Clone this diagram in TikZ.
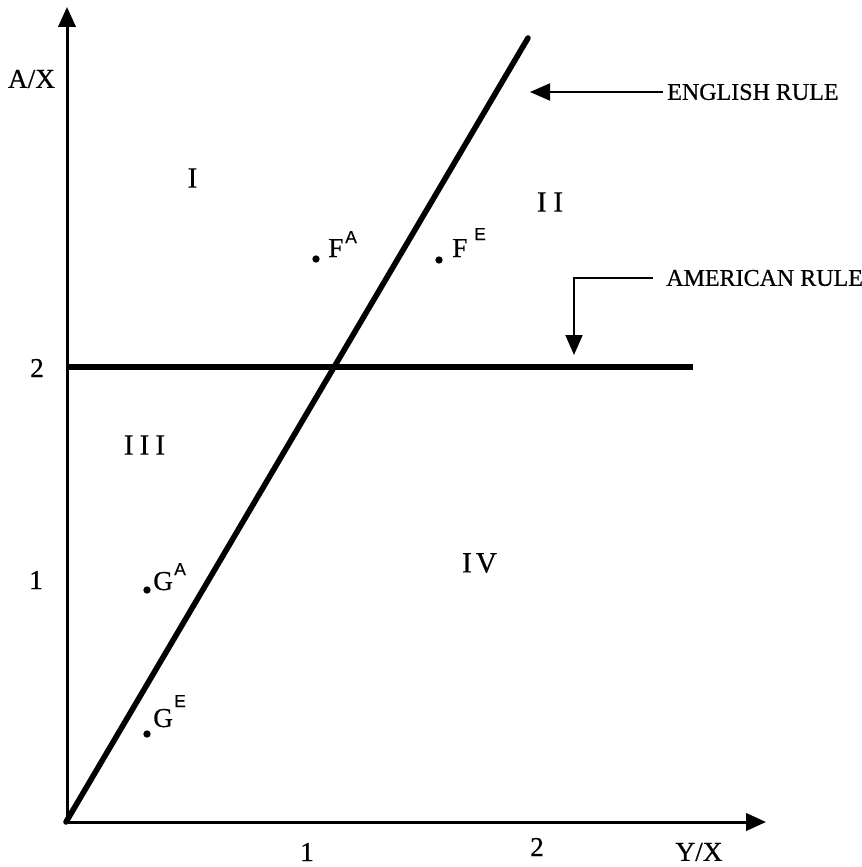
\documentclass[tikz,border=0pt]{standalone}
\usepackage{fontspec}
\setmainfont{Liberation Serif}[FakeBold=0.6]
\setsansfont{Liberation Sans}[FakeBold=0.4]
\usetikzlibrary{arrows.meta}
\begin{document}
\begin{tikzpicture}[x=0.75pt,y=-0.75pt,
  axis/.style={line width=2.25pt,{Triangle[length=15pt,width=13pt]}-{Triangle[length=15pt,width=13pt]}},
  rulelineE/.style={line width=4.2pt,line cap=round},
  rulelineA/.style={line width=3.9pt},
  pointer/.style={line width=1.5pt,-{Triangle[length=15pt,width=12.75pt]}},
  lbl/.style={font=\fontsize{20.5}{24}\selectfont,inner sep=0pt},
  region/.style={font=\fontsize{22}{26}\selectfont,inner sep=0pt},
  note/.style={font=\fontsize{18}{22}\selectfont,inner sep=0pt,anchor=west},
  ptl/.style={font=\fontsize{20.5}{24}\selectfont,inner sep=0pt,anchor=base west},
  sup/.style={font=\sffamily\fontsize{13}{15}\selectfont,inner sep=0pt,anchor=base west},
  dot/.style={circle,fill,inner sep=0pt,minimum size=5.5pt}
]
\useasboundingbox (0,0) rectangle (862,867);

% axes
\coordinate (O) at (67,822);
\coordinate (ytip) at (67,7);
\coordinate (xtip) at (766,822);
\draw[axis] (ytip) -- (O) -- (xtip);

% rules
\coordinate (E0) at (66,822);
\coordinate (E1) at (528,38);
\draw[rulelineE] (E0) -- (E1);
\coordinate (A0) at (66,367);
\coordinate (A1) at (693,367);
\draw[rulelineA] (A0) -- (A1);

% pointers
\node[note] (eng) at (667,92) {ENGLISH RULE};
\coordinate (engtip) at (530,92);
\draw[pointer] ([xshift=-3pt]eng.west) -- (engtip);
\node[note] (ame) at (666,278) {AMERICAN RULE};
\coordinate (ametip) at (574,355);
\draw[pointer] ([xshift=-9.75pt]ame.west) -| (ametip);

% axis labels
\node[lbl] (ax) at (31.5,79) {A/X};
\node[lbl] (y2) at (37,368) {2};
\node[lbl] (y1) at (36,580) {1};
\node[lbl] (x1) at (307,852) {1};
\node[lbl] (x2) at (537,847) {2};
\node[lbl] (yx) at (699,852) {Y/X};

% regions
\node[region] (rI) at (192.5,178) {I};
\node[region] (rII) at (550,202) {I\kern5pt I};
\node[region] (rIII) at (144.5,445) {I\kern4.5pt I\kern4.5pt I};
\node[region] (rIV) at (479.5,563) {I\kern3pt V};

% points
\node[dot] (dFA) at (316,259) {};
\node[ptl] (FA) at (328,257) {F};
\node[sup] (FAs) at (345,243) {A};
\node[dot] (dFE) at (439,260) {};
\node[ptl] (FE) at (452,257) {F};
\node[sup] (FEs) at (474,240) {E};
\node[dot] (dGA) at (147,590) {};
\node[ptl] (GA) at (153,590) {G};
\node[sup] (GAs) at (174,575) {A};
\node[dot] (dGE) at (147,734) {};
\node[ptl] (GE) at (153,727) {G};
\node[sup] (GEs) at (174,707) {E};
\end{tikzpicture}
\end{document}
